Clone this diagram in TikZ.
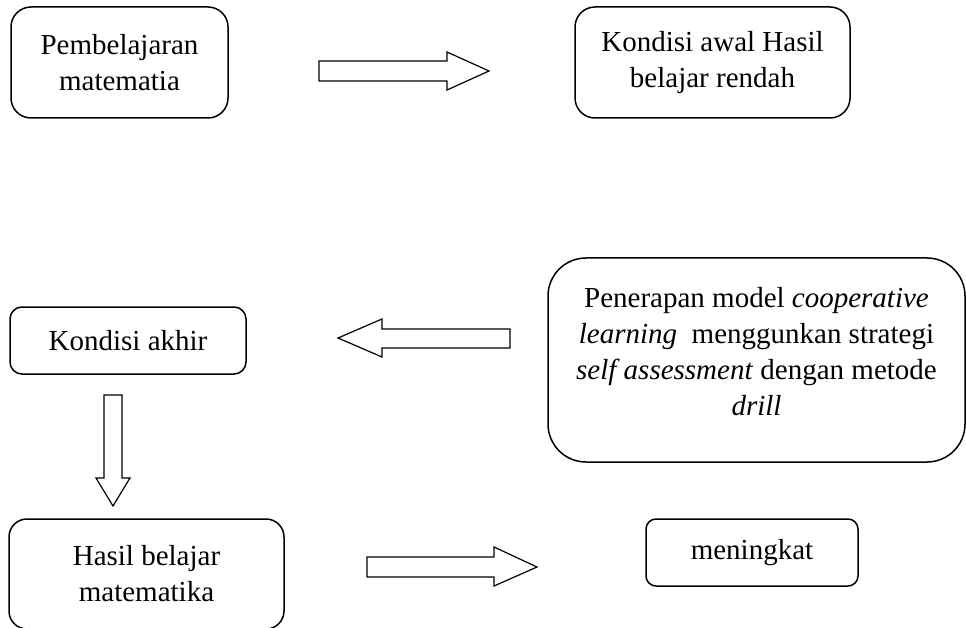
\documentclass[tikz,border=0pt]{standalone}
\usepackage{fontspec}
\setmainfont{Liberation Serif}
\begin{document}
\begin{tikzpicture}[x=1pt,y=-1pt,
  box/.style={draw=black, line width=1.5pt, inner sep=0pt, align=center,
    font=\fontsize{29}{36}\selectfont},
  blockarrow/.style={draw=black, line width=1.2pt, line join=miter, fill=white}]
\useasboundingbox (0,0) rectangle (966,628);
% boxes
\node[box, rounded corners=20pt, minimum width=217pt, minimum height=111pt] (pm) at (119.5,62.5) {Pembelajaran\\matematia};
\node[box, rounded corners=20pt, minimum width=275pt, minimum height=111pt] (ka) at (712.5,62.5) {Kondisi awal Hasil\\belajar rendah};
\node[box, rounded corners=38pt, minimum width=417pt, minimum height=204pt] (pn) at (756.5,360)
  {Penerapan model \textit{cooperative}\\\textit{learning}\ \ menggunkan strategi\\\textit{self assessment} dengan metode\\\textit{drill}\rule[-18pt]{0pt}{18pt}};
\node[box, rounded corners=12pt, minimum width=236pt, minimum height=67pt] (kk) at (128,340.5) {Kondisi akhir};
\node[box, rounded corners=18pt, minimum width=275pt, minimum height=110pt] (hb) at (146.5,574) {Hasil belajar\\matematika};
\node[box, rounded corners=10pt, minimum width=212pt, minimum height=67pt] (mn) at (752,552.5) {meningkat};
% block arrows
\draw[blockarrow] (319,61) -- (447,61) -- (447,52) -- (489,71) -- (447,90) -- (447,81) -- (319,81) -- cycle;
\draw[blockarrow] (510,329) -- (382,329) -- (382,319) -- (338,338) -- (382,357) -- (382,348) -- (510,348) -- cycle;
\draw[blockarrow] (104,395) -- (122,395) -- (122,478) -- (130,478) -- (113,506) -- (96,478) -- (104,478) -- cycle;
\draw[blockarrow] (367,557) -- (494,557) -- (494,547) -- (537,567) -- (494,586) -- (494,577) -- (367,577) -- cycle;
\end{tikzpicture}
\end{document}
